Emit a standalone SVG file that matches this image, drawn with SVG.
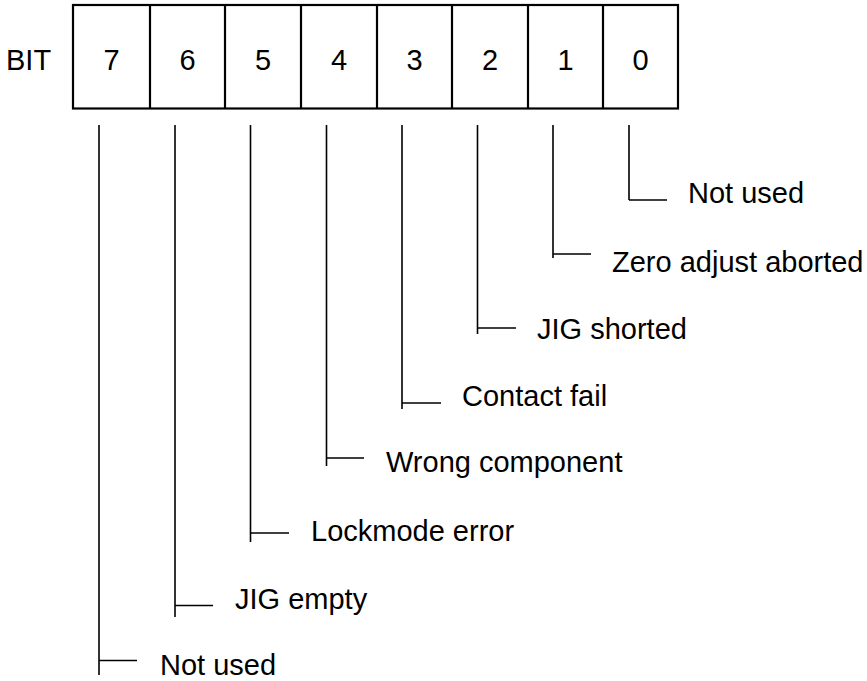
<svg xmlns="http://www.w3.org/2000/svg" width="867" height="681" viewBox="0 0 867 681">
<style>
  .t { font-family: "Liberation Sans", Arial, sans-serif; font-size: 29px; fill: #000; }
  .c { text-anchor: middle; }
  .box { fill: #fff; stroke: #000; stroke-width: 2.2; }
  .ln { fill: none; stroke: #000; stroke-width: 1.6; }
</style>
<rect width="867" height="681" fill="#fff"/>
<g id="register">
  <text class="t" x="6" y="70">BIT</text>
  <rect class="box" x="73" y="5" width="605" height="103.5"/>
  <g class="ln">
    <line x1="150" y1="5" x2="150" y2="108.5" stroke-width="2.2"/>
    <line x1="225" y1="5" x2="225" y2="108.5" stroke-width="2.2"/>
    <line x1="301" y1="5" x2="301" y2="108.5" stroke-width="2.2"/>
    <line x1="377" y1="5" x2="377" y2="108.5" stroke-width="2.2"/>
    <line x1="452" y1="5" x2="452" y2="108.5" stroke-width="2.2"/>
    <line x1="528" y1="5" x2="528" y2="108.5" stroke-width="2.2"/>
    <line x1="603" y1="5" x2="603" y2="108.5" stroke-width="2.2"/>
  </g>
  <text class="t c" x="111.5" y="70">7</text>
  <text class="t c" x="187.5" y="70">6</text>
  <text class="t c" x="263" y="70">5</text>
  <text class="t c" x="339" y="70">4</text>
  <text class="t c" x="414.5" y="70">3</text>
  <text class="t c" x="490" y="70">2</text>
  <text class="t c" x="565.5" y="70">1</text>
  <text class="t c" x="640.5" y="70">0</text>
</g>
<g id="connectors" class="ln">
  <path d="M629,125 V200 M629,200 H667"/>
  <path d="M553,125 V258 M553,254 H591"/>
  <path d="M477.5,125 V334 M477.5,328 H516"/>
  <path d="M402,125 V409 M402,403 H441"/>
  <path d="M326.5,125 V466 M326.5,458 H364"/>
  <path d="M250.5,125 V542 M250.5,533 H289"/>
  <path d="M175,125 V617 M175,605.5 H213"/>
  <path d="M99,125 V675 M99,660.5 H137"/>
</g>
<g id="bit0"><text class="t" x="688" y="203">Not used</text></g>
<g id="bit1"><text class="t" x="612" y="272">Zero adjust aborted</text></g>
<g id="bit2"><text class="t" x="537" y="339">JIG shorted</text></g>
<g id="bit3"><text class="t" x="462" y="406">Contact fail</text></g>
<g id="bit4"><text class="t" x="386" y="472">Wrong component</text></g>
<g id="bit5"><text class="t" x="311" y="541">Lockmode error</text></g>
<g id="bit6"><text class="t" x="235" y="609">JIG empty</text></g>
<g id="bit7"><text class="t" x="160" y="675">Not used</text></g>
</svg>
